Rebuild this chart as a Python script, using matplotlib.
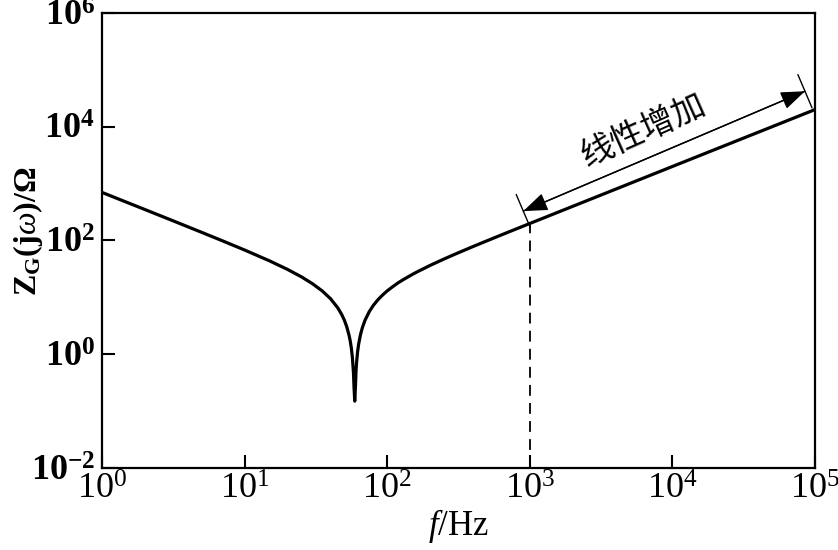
import numpy as np
import matplotlib
matplotlib.use("Agg")
import matplotlib.pyplot as plt
from matplotlib.ticker import LogLocator, NullLocator

# ============================================================
#  Impedância Z_G(jω) em função da frequência (log-log)
# ============================================================

plt.rcParams['font.family'] = ['Liberation Serif', 'Noto Sans CJK SC']
plt.rcParams['mathtext.fontset'] = 'custom'
plt.rcParams['mathtext.rm'] = 'Liberation Serif'
plt.rcParams['mathtext.it'] = 'Liberation Serif:italic'
plt.rcParams['mathtext.bf'] = 'Liberation Serif:bold'

# 1. Dados
f_hz = [1, 2, 3, 5, 7, 10, 15, 20, 25, 30, 35, 40, 45, 48, 50, 52, 54, 55,
        56, 57, 58, 58.5, 59.2, 59.8, 60.5, 61, 62, 63, 65, 67, 70, 75, 80,
        85, 90, 95, 100, 110, 120, 130, 150, 160, 200, 250, 300, 400, 500,
        700, 1000, 10000, 100000]
z_ohm = [700, 350, 233, 139, 98.6, 68, 43.7, 31, 23, 17.3, 13, 9.5, 6.56, 4.98,
         4.0, 3.06, 2.16, 1.73, 1.3, 0.88, 0.47, 0.27, 0.15, 0.25, 0.53, 0.72,
         1.11, 1.49, 2.23, 2.95, 4.0, 5.67, 7.25, 8.76, 10.2, 11.6, 13, 15.6,
         18.2, 20.6, 25.3, 27.6, 36.5, 47.2, 57.7, 78.3, 98.6, 139, 199, 2000,
         20000]

f_lin_ini, f_lin_fim = 1e3, 1e5      # região de crescimento linear
rotulo_lin = '线性增加'

x_lim = (1e0, 1e5)
y_lim = (1e-2, 1e6)

# 2. Figura
fig = plt.figure(figsize=(8.38, 5.5), dpi=100)
ax = fig.add_axes([0.1217, 0.149, 0.8509, 0.8275])

ax.plot(f_hz, z_ohm, color='black', linewidth=2.3, solid_joinstyle='round')

# linha tracejada em 10^3
z_ini = z_ohm[f_hz.index(f_lin_ini)]
ax.plot([f_lin_ini, f_lin_ini], [y_lim[0], z_ini], color='black',
        linewidth=1.3, linestyle=(0, (6, 4)))

# seta dupla "线性增加"
p_ini = (f_lin_ini * 0.9, z_ini * 1.65)
p_fim = (f_lin_fim * 0.85, f_lin_fim * 0.42)
ax.annotate('', xy=p_fim, xytext=p_ini,
            arrowprops=dict(arrowstyle='<|-|>,head_length=0.75,head_width=0.28',
                            color='black', lw=1.0, shrinkA=0, shrinkB=0,
                            mutation_scale=20))
ax.annotate('', xy=p_fim, xytext=p_ini,
            arrowprops=dict(arrowstyle='|-|,widthA=0.65,widthB=0.65',
                            color='black', lw=1.0, shrinkA=0, shrinkB=0,
                            mutation_scale=20))
ax.text(6.3e3, 8.5e3, rotulo_lin, rotation=24, fontsize=24,
        family=['Noto Sans CJK SC'], ha='center', va='center',
        rotation_mode='anchor')

# 3. Eixos
ax.set_xscale('log')
ax.set_yscale('log')
ax.set_xlim(*x_lim)
ax.set_ylim(*y_lim)
ax.xaxis.set_major_locator(LogLocator(base=10, numticks=10))
ax.yaxis.set_major_locator(LogLocator(base=100, numticks=10))
ax.xaxis.set_minor_locator(NullLocator())
ax.yaxis.set_minor_locator(NullLocator())

ax.tick_params(axis='both', which='major', direction='in', length=9.5,
               width=1.5, top=False, right=False, labelsize=26)
ax.tick_params(axis='x', pad=4)
ax.tick_params(axis='y', pad=5)
for lab in ax.get_yticklabels():
    lab.set_fontweight('bold')

for sp in ax.spines.values():
    sp.set_linewidth(1.6)

ax.set_xlabel(r'$f$/Hz', fontsize=25, labelpad=0)
ax.set_ylabel(r'$\mathdefault{Z_G(j}\omega\mathdefault{)/\Omega}$', fontsize=23,
              fontweight='bold')
ax.yaxis.set_label_coords(-0.08, 0.52)

fig.savefig('out.png', dpi=100)
